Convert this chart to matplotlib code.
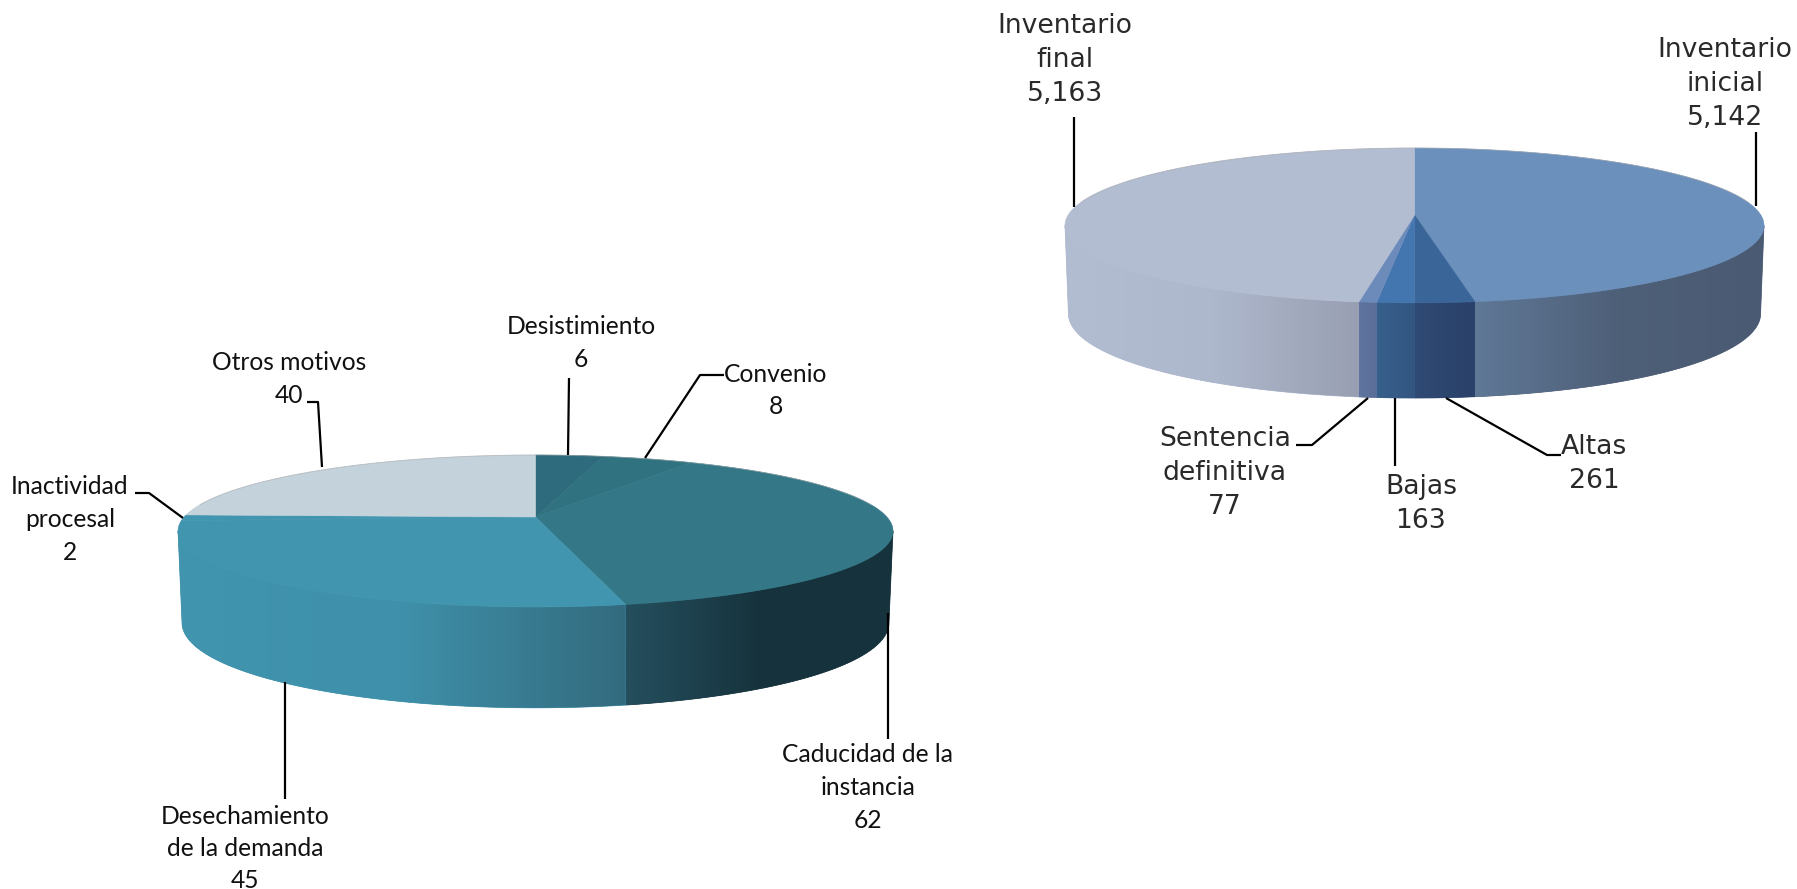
import numpy as np
import matplotlib
matplotlib.use('Agg')
import matplotlib.pyplot as plt
from matplotlib.patches import Polygon
from matplotlib.colors import LinearSegmentedColormap

# left pie
motivos = ['Desistimiento', 'Convenio', 'Caducidad de la\ninstancia',
           'Desechamiento\nde la demanda', 'Inactividad\nprocesal', 'Otros motivos']
motivos_vals = [6, 8, 62, 45, 2, 40]

# right pie
inventario = ['Inventario\ninicial', 'Altas', 'Bajas',
              'Sentencia\ndefinitiva', 'Inventario\nfinal']
inventario_vals = [5142, 261, 163, 77, 5163]

motivos_top = ['#2e6b7c', '#30727f', '#347888', '#4195af', '#4195af', '#c3d2db']
motivos_wall = [['#1f4a57', '#1f4a57'], ['#1f4a57', '#1f4a57'],
                ['#254f5e', '#16333d', '#16333d'],
                ['#4195af', '#3f90aa', '#336b7e'],
                ['#4195af', '#4195af'], ['#4195af', '#4195af']]
inventario_top = ['#6b90bc', '#3a6599', '#4375af', '#6c8bbb', '#b2bdd2']
inventario_wall = [['#5f7896', '#4e5f78', '#4a5a72'], ['#2f4a74', '#2a4169'],
                   ['#37608c', '#335680'], ['#5f74a0', '#5a6e98'],
                   ['#b2bdd2', '#aeb8cc', '#989fb2']]


def project(theta, radius, geom):
    # perspective view of the pie disc, theta clockwise from the top
    x, y = radius * np.sin(theta), radius * np.cos(theta)
    d = 1 + geom['k'] * y
    a = geom['a'] * (1 - geom.get('taper', 0) * np.sin(theta) ** 4)
    return geom['cx'] + a * x / d, geom['y0'] - geom['b'] * y / d


def draw_pie(ax, vals, tops, walls, top_geom, bottom_geom):
    edges = np.radians(np.concatenate([[0], np.cumsum(vals)]) / sum(vals) * 360)
    gradient = np.linspace(0, 1, 256).reshape(1, -1)
    # only the near part of the rim shows a wall, from one side extreme to the other
    near_from = np.arccos(-top_geom['k'])
    near_to = 2 * np.pi - near_from
    for i in range(len(vals)):
        start, stop = max(edges[i], near_from), min(edges[i + 1], near_to)
        if stop <= start:
            continue
        th = np.linspace(start, stop, max(int((stop - start) * 120), 4))
        x1, y1 = project(th, 1, top_geom)
        x2, y2 = project(th, 1, bottom_geom)
        outline = np.c_[np.r_[x1, x2[::-1]], np.r_[y1, y2[::-1]]]
        cmap = LinearSegmentedColormap.from_list('w', walls[i])
        # solid underlay keeps the seams between wall pieces closed
        ax.add_patch(Polygon(outline, closed=True, color=cmap(0.5), lw=0.5, zorder=2))
        im = ax.imshow(gradient, cmap=cmap, aspect='auto', interpolation='bilinear', zorder=2.1,
                       extent=(x1.min(), x1.max(), outline[:, 1].max(), outline[:, 1].min()))
        im.set_clip_path(Polygon(outline, closed=True, transform=ax.transData))
    for i in range(len(vals)):
        th = np.linspace(edges[i], edges[i + 1], max(int((edges[i + 1] - edges[i]) * 120), 4))
        x, y = project(th, 1, top_geom)
        ax.fill(np.r_[top_geom['cx'], x], np.r_[top_geom['y0'], y], color=tops[i], lw=0.4, zorder=3)
    # thin shade along the far rim
    th = np.radians(np.linspace(-80, 80, 200))
    x, y = project(th, 1, top_geom)
    ax.plot(x, y, color='#a8a8a8', lw=0.7, alpha=0.5, zorder=4)


def draw_label(ax, text, value, x, y, pitch, **kw):
    lines = text.split('\n') + [format(value, ',')]
    for n, line in enumerate(lines):
        ax.text(x, y + n * pitch, line, ha='center', va='center', zorder=6, **kw)


fig = plt.figure(figsize=(17.97, 8.89), dpi=100)
ax = fig.add_axes([0, 0, 1, 1])

draw_pie(ax, motivos_vals, motivos_top, motivos_wall,
         dict(cx=535.5, y0=517, a=351.4, b=73.4, k=0.184),
         dict(cx=535.5, y0=606, a=351.4, b=83.1, k=0.184, taper=0.012))
draw_pie(ax, inventario_vals, inventario_top, inventario_wall,
         dict(cx=1414.5, y0=215, a=346.3, b=76, k=0.135),
         dict(cx=1414.5, y0=301.5, a=346.3, b=83.5, k=0.135, taper=0.01))

left_pos = [(581, 327), (776, 374), (868, 755), (245, 816), (70, 487), (289, 363)]
right_pos = [(1725, 50), (1594, 447), (1421, 487), (1225, 439), (1065, 26)]
for t, v, (x, y) in zip(motivos, motivos_vals, left_pos):
    draw_label(ax, t, v, x, y, 32.5, family='Lato', fontsize=17.7, color='#111111')
for t, v, (x, y) in zip(inventario, inventario_vals, right_pos):
    draw_label(ax, t, v, x, y, 34, family='DejaVu Sans', fontsize=19.2, color='#2a2a2a')

leaders = [
    [(569, 378), (568, 455)],
    [(724, 375), (700, 375), (645, 458)],
    [(307, 402), (318, 402), (322, 467)],
    [(135, 493), (149, 493), (183, 518)],
    [(888, 613), (888, 739)],
    [(285, 682), (285, 799)],
    [(1074, 117), (1074, 207)],
    [(1756, 132), (1756, 206)],
    [(1296, 445), (1312, 445), (1368, 398)],
    [(1395, 398), (1395, 466)],
    [(1446, 398), (1547, 455), (1561, 455)],
]
for pts in leaders:
    xs, ys = zip(*pts)
    ax.plot(xs, ys, color='black', lw=1.6, zorder=5, solid_capstyle='butt')

ax.set_xlim(0, 1797)
ax.set_ylim(889, 0)
ax.axis('off')

fig.savefig('out.png', dpi=100, facecolor='white')
